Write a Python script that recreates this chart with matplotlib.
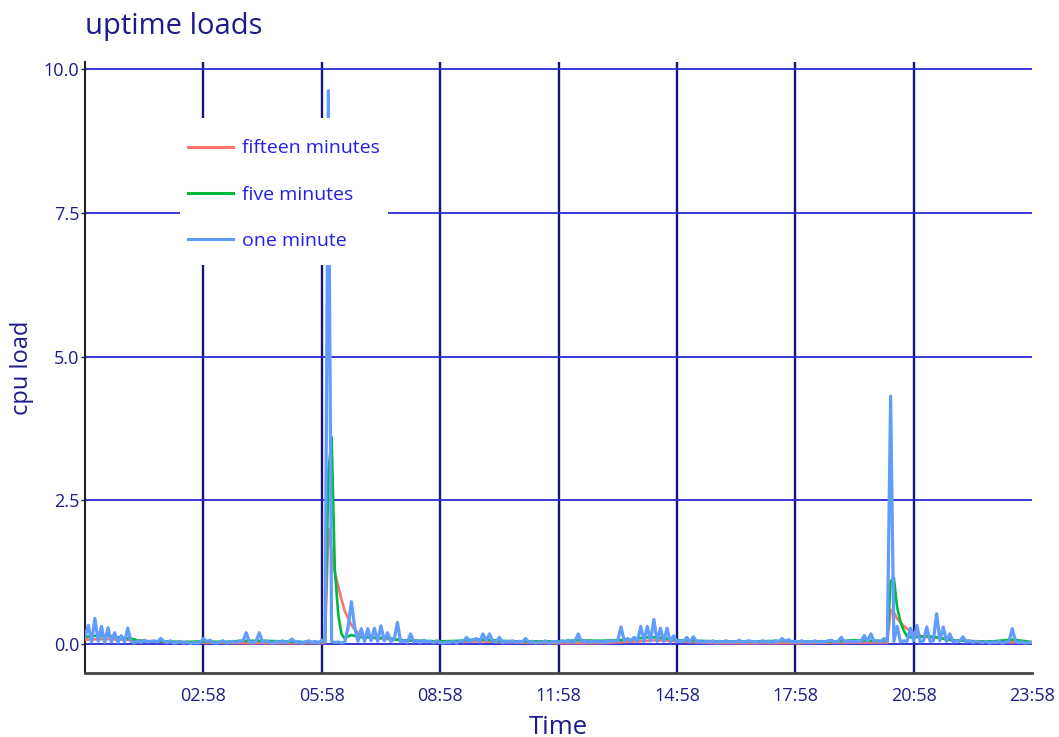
import matplotlib
matplotlib.use("Agg")
import matplotlib.pyplot as plt
import matplotlib.dates as mdates
from matplotlib.patches import Rectangle
import pandas as pd

plt.rcParams["font.family"] = ["Open Sans", "DejaVu Sans"]

# one minute load, sampled every 5 minutes from 23:58 (24 rows of one hour)
one_minute = [
    0.12, 0.33, 0.04, 0.45, 0.05, 0.31, 0.03, 0.29, 0.04, 0.20, 0.03, 0.15,
    0.04, 0.28, 0.05, 0.02, 0.06, 0.03, 0.07, 0.04, 0.05, 0.06, 0.04, 0.10,
    0.05, 0.03, 0.06, 0.02, 0.03, 0.05, 0.02, 0.04, 0.01, 0.03, 0.02, 0.03,
    0.10, 0.05, 0.07, 0.03, 0.02, 0.04, 0.06, 0.02, 0.04, 0.05, 0.03, 0.06,
    0.05, 0.20, 0.04, 0.03, 0.05, 0.20, 0.03, 0.06, 0.04, 0.02, 0.05, 0.03,
    0.06, 0.03, 0.05, 0.09, 0.03, 0.05, 0.02, 0.04, 0.06, 0.03, 0.05, 0.02,
    0.07, 0.04, 9.62, 0.05, 0.03, 0.04, 0.02, 0.04, 0.30, 0.74, 0.30, 0.05,
    0.27, 0.05, 0.27, 0.06, 0.28, 0.05, 0.32, 0.06, 0.20, 0.05, 0.08, 0.38,
    0.04, 0.06, 0.03, 0.18, 0.04, 0.06, 0.03, 0.07, 0.04, 0.05, 0.03, 0.06,
    0.03, 0.02, 0.04, 0.03, 0.05, 0.02, 0.06, 0.04, 0.12, 0.05, 0.07, 0.10,
    0.04, 0.18, 0.06, 0.18, 0.05, 0.04, 0.12, 0.03, 0.05, 0.04, 0.06, 0.03,
    0.05, 0.04, 0.10, 0.03, 0.05, 0.02, 0.04, 0.03, 0.06, 0.02, 0.04, 0.05,
    0.03, 0.06, 0.04, 0.07, 0.03, 0.05, 0.18, 0.04, 0.06, 0.03, 0.05, 0.04,
    0.06, 0.03, 0.05, 0.04, 0.07, 0.05, 0.06, 0.30, 0.06, 0.10, 0.05, 0.12,
    0.05, 0.31, 0.05, 0.31, 0.06, 0.43, 0.05, 0.28, 0.05, 0.28, 0.04, 0.15,
    0.04, 0.06, 0.05, 0.12, 0.04, 0.13, 0.04, 0.06, 0.03, 0.05, 0.04, 0.06,
    0.03, 0.05, 0.04, 0.06, 0.03, 0.05, 0.04, 0.07, 0.03, 0.05, 0.06, 0.04,
    0.05, 0.03, 0.06, 0.04, 0.05, 0.03, 0.06, 0.04, 0.10, 0.05, 0.08, 0.03,
    0.05, 0.04, 0.06, 0.03, 0.05, 0.04, 0.06, 0.03, 0.05, 0.04, 0.06, 0.07,
    0.04, 0.05, 0.12, 0.04, 0.06, 0.05, 0.04, 0.06, 0.05, 0.15, 0.05, 0.18,
    0.05, 0.06, 0.04, 0.10, 0.05, 4.31, 0.05, 0.31, 0.04, 0.06, 0.05, 0.28,
    0.06, 0.33, 0.04, 0.06, 0.30, 0.05, 0.06, 0.53, 0.06, 0.30, 0.05, 0.18,
    0.04, 0.06, 0.05, 0.13, 0.04, 0.06, 0.03, 0.05, 0.04, 0.03, 0.05, 0.02,
    0.04, 0.03, 0.05, 0.02, 0.04, 0.05, 0.27, 0.05, 0.03, 0.04, 0.02, 0.03,
    0.03,
]

# five minute load (hours after 23:58, value)
five_hours = [0.0, 0.17, 0.33, 0.5, 0.67, 0.83, 1.0, 1.17, 1.33, 1.5, 2.0, 2.5,
              3.0, 3.5, 4.0, 4.5, 5.0, 5.5, 6.0, 6.08, 6.17, 6.25, 6.33, 6.42,
              6.5, 6.58, 6.67, 6.75, 6.92, 7.08, 7.25, 7.42, 7.58, 7.75, 8.0,
              8.5, 9.0, 9.5, 9.83, 10.17, 10.5, 11.0, 12.0, 12.5, 13.0, 13.5,
              13.83, 14.0, 14.25, 14.5, 14.75, 15.0, 15.5, 16.0, 17.0, 17.75,
              18.0, 19.0, 19.5, 20.0, 20.33, 20.42, 20.5, 20.58, 20.67, 20.75,
              20.83, 20.92, 21.0, 21.17, 21.33, 21.5, 21.67, 21.83, 22.0, 22.5,
              23.0, 23.5, 23.75, 24.0]
five_minutes = [0.12, 0.15, 0.14, 0.15, 0.14, 0.12, 0.11, 0.10, 0.07, 0.05, 0.05, 0.04,
                0.05, 0.04, 0.06, 0.06, 0.05, 0.04, 0.04, 0.05, 3.0, 3.6, 1.3, 0.5,
                0.18, 0.10, 0.14, 0.16, 0.13, 0.12, 0.12, 0.10, 0.12, 0.10, 0.07,
                0.06, 0.05, 0.06, 0.08, 0.08, 0.06, 0.05, 0.05, 0.07, 0.06, 0.07,
                0.08, 0.10, 0.12, 0.12, 0.10, 0.07, 0.06, 0.05, 0.05, 0.06,
                0.05, 0.05, 0.07, 0.06, 0.06, 1.1, 1.15, 0.65, 0.38, 0.24,
                0.14, 0.12, 0.12, 0.13, 0.14, 0.13, 0.11, 0.08, 0.07, 0.05,
                0.05, 0.08, 0.06, 0.04]

# fifteen minute load (hours after 23:58, value)
fifteen_hours = [0.0, 0.5, 1.0, 1.5, 2.0, 3.0, 4.0, 5.0, 6.0, 6.08, 6.17, 6.25,
                 6.33, 6.42, 6.5, 6.58, 6.67, 6.75, 6.83, 6.92, 7.0, 7.17, 7.5,
                 8.0, 9.0, 10.0, 11.0, 12.0, 13.0, 14.0, 14.5, 15.0, 16.0, 18.0,
                 19.0, 20.0, 20.33, 20.42, 20.5, 20.58, 20.67, 20.75, 20.83,
                 20.92, 21.0, 21.08, 21.17, 21.25, 21.5, 21.75, 22.0, 23.0, 24.0]
fifteen_minutes = [0.08, 0.09, 0.08, 0.06, 0.04, 0.03, 0.02, 0.02, 0.02, 0.03, 2.0, 1.6,
                   1.25, 1.0, 0.78, 0.58, 0.45, 0.34, 0.26, 0.20, 0.16, 0.12, 0.10,
                   0.07, 0.04, 0.05, 0.03, 0.02, 0.02, 0.05, 0.07, 0.05, 0.02, 0.02,
                   0.03, 0.03, 0.03, 0.60, 0.55, 0.45, 0.38, 0.32, 0.27,
                   0.23, 0.20, 0.17, 0.15, 0.13, 0.12, 0.10, 0.07, 0.04, 0.03]

y_ticks = [0.0, 2.5, 5.0, 7.5, 10.0]
tick_hours = [3, 6, 9, 12, 15, 18, 21, 24]

navy = "#1c1c8a"
start = pd.Timestamp("2018-01-01 23:58")
t_one = pd.date_range(start, periods=len(one_minute), freq="5min")
t_five = start + pd.to_timedelta(five_hours, unit="h")
t_fifteen = start + pd.to_timedelta(fifteen_hours, unit="h")

fig = plt.figure(figsize=(10.59, 7.37), dpi=100)
ax = fig.add_axes([0.0803, 0.0868, 0.8942, 0.8292])

ax.plot(t_fifteen, fifteen_minutes, color="#F8766D", lw=1.9, label="fifteen minutes", zorder=3)
ax.plot(t_five, five_minutes, color="#00BA38", lw=1.9, label="five minutes", zorder=3)
ax.plot(t_one, one_minute, color="#619CFF", lw=2.3, label="one minute", zorder=4)

ax.set_xlim(start, start + pd.Timedelta(hours=24))
ax.set_ylim(-0.5, 10.12)
ax.set_xticks([start + pd.Timedelta(hours=h) for h in tick_hours])
ax.xaxis.set_major_formatter(mdates.DateFormatter("%H:%M"))
ax.set_yticks(y_ticks)
ax.set_yticklabels([f"{v:.1f}" for v in y_ticks])

ax.set_axisbelow(True)
ax.grid(axis="y", color="#2a2ad2", lw=1.3)
ax.grid(axis="x", color="#14147a", lw=1.7)
# no gridline on the right edge
ax.get_xgridlines()[-1].set_visible(False)

ax.spines["top"].set_visible(False)
ax.spines["right"].set_visible(False)
ax.spines["left"].set_color("#222222")
ax.spines["left"].set_linewidth(1.5)
ax.spines["bottom"].set_color("#444444")
ax.spines["bottom"].set_linewidth(2)

ax.tick_params(axis="x", length=0, pad=10, labelsize=13, labelcolor=navy)
ax.tick_params(axis="y", length=3, width=1, color=navy, pad=1, labelsize=13, labelcolor=navy)

ax.set_title("uptime loads", loc="left", fontsize=21, color=navy, pad=20)
ax.set_xlabel("Time", fontsize=18.5, color=navy, labelpad=7)
ax.set_ylabel("cpu load", fontsize=17, color=navy, labelpad=7)

# white box behind the legend
ax.add_patch(Rectangle((0.1003, 0.6678), 0.2196, 0.2406, transform=ax.transAxes,
                       facecolor="white", edgecolor="none", zorder=9))
leg = ax.legend(loc="upper left", bbox_to_anchor=(0.1003, 0.887), borderaxespad=0,
                frameon=False, fontsize=14, labelspacing=1.45, handlelength=2.3,
                handletextpad=0.45, borderpad=0.43)
leg.set_zorder(10)
for text in leg.get_texts():
    text.set_color("#2020e6")
for line in leg.get_lines():
    line.set_linewidth(2.2)

fig.savefig("out.png", dpi=100)
